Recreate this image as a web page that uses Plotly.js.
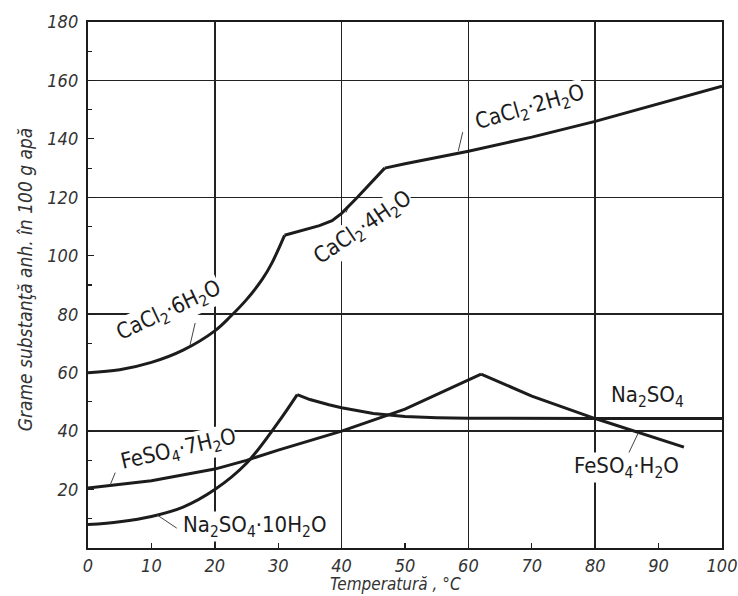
<!DOCTYPE html>
<html>
<head>
<meta charset="utf-8">
<script src="https://cdn.plot.ly/plotly-3.0.1.min.js"></script>
<style>html,body{margin:0;padding:0;background:#fff;}#chart{width:738px;height:596px;}</style>
</head>
<body>
<div id="chart"></div>
<script>
// Solubility data (g anhydrous substance per 100 g water)
const cacl2_6_T = [0, 5, 10, 15, 20, 22.5, 25, 27.5, 29, 31];
const cacl2_6_S = [60, 61, 63.5, 67.7, 74.3, 79.3, 85, 92, 97.5, 107];
const cacl2_4_T = [31, 34, 36.5, 38.5, 40, 42.5, 46.8];
const cacl2_4_S = [107, 108.8, 110.3, 112, 114.5, 120, 130];
const cacl2_2_T = [46.8, 50, 60, 70, 80, 90, 100];
const cacl2_2_S = [130, 131.5, 135.8, 140.6, 146, 152, 158];
const na2so4_10_T = [0, 5, 10, 15, 20, 25, 30, 33];
const na2so4_10_S = [8, 9, 10.8, 14, 20, 29, 43, 52.5];
const na2so4_T = [33, 35, 38, 40, 45, 50, 55, 60, 80, 100];
const na2so4_S = [52.5, 50.8, 49, 48, 46, 45, 44.6, 44.4, 44.3, 44.3];
const feso4_7_T = [0, 10, 20, 25, 30, 40, 50, 62];
const feso4_7_S = [20.5, 23, 27, 30, 33.5, 40, 47.5, 59.5];
const feso4_1_T = [62, 70, 80, 90, 94];
const feso4_1_S = [59.5, 52, 44.3, 37.3, 34.5];

const xTicks = [0, 10, 20, 30, 40, 50, 60, 70, 80, 90, 100];
const yTicks = [20, 40, 60, 80, 100, 120, 140, 160, 180];

const ink = '#1c1c1c';
const curve = (x, y) => ({x, y, type: 'scatter', mode: 'lines',
  line: {color: ink, width: 3, shape: 'spline', smoothing: 1}, hoverinfo: 'skip', showlegend: false});
const straight = (x, y) => ({x, y, type: 'scatter', mode: 'lines',
  line: {color: ink, width: 3}, hoverinfo: 'skip', showlegend: false});

const traces = [
  curve(cacl2_6_T, cacl2_6_S),
  straight(cacl2_4_T, cacl2_4_S),
  straight(cacl2_2_T, cacl2_2_S),
  curve(na2so4_10_T, na2so4_10_S),
  straight(na2so4_T, na2so4_S),
  straight(feso4_7_T, feso4_7_S),
  straight(feso4_1_T, feso4_1_S),
  {x: [], y: [], xaxis: 'x2', yaxis: 'y2', type: 'scatter', mode: 'lines', showlegend: false}
];

const fam = 'DejaVu Sans Condensed, DejaVu Sans, sans-serif';
const labFont = {family: fam, size: 22, color: ink};
const lab = (text, x, y, angle) => ({text, x, y, xref: 'x', yref: 'y', showarrow: false,
  textangle: angle, font: labFont, bgcolor: 'white', borderpad: 0});

const annotations = [
  lab('CaCl<sub>2</sub>·6H<sub>2</sub>O', 12.8, 81, -25),
  lab('CaCl<sub>2</sub>·4H<sub>2</sub>O', 43.4, 109.5, -34),
  lab('CaCl<sub>2</sub>·2H<sub>2</sub>O', 69.7, 150.5, -16),
  lab('FeSO<sub>4</sub>·7H<sub>2</sub>O', 14.3, 33.3, -13),
  lab('Na<sub>2</sub>SO<sub>4</sub>·10H<sub>2</sub>O', 26.3, 7.3, 0),
  lab('Na<sub>2</sub>SO<sub>4</sub>', 88.3, 51.7, 0),
  lab('FeSO<sub>4</sub>·H<sub>2</sub>O', 84.9, 27.7, 0),
  {text: 'Grame substanţă anh. în 100 g apă', xref: 'paper', yref: 'paper',
   x: -0.1, y: 0.51, xanchor: 'center', yanchor: 'middle', showarrow: false, textangle: -90,
   font: {family: fam, size: 19, style: 'italic', color: '#333'}},
  {text: 'Temperatură , °C', xref: 'paper', yref: 'paper',
   x: 0.485, y: -0.0895, xanchor: 'center', yanchor: 'bottom', showarrow: false, borderpad: 0,
   font: {family: fam, size: 17, style: 'italic', color: '#333'}}
];

// thin leader lines from labels to their curves (data coordinates)
const lead = (x0, y0, x1, y1) => ({type: 'line', xref: 'x', yref: 'y', x0, y0, x1, y1,
  line: {color: '#444', width: 1}});
const shapes = [
  lead(16.9, 77, 16.1, 69.5),
  lead(4.3, 25.8, 3.5, 21.6),
  lead(14, 6.8, 10.9, 11.3),
  lead(59.1, 142.3, 58.4, 135.8),
  lead(86.8, 39.4, 85, 31.2),
  lead(41, 116.2, 40.7, 114.8)
];

const tickFont = {family: fam, size: 18, style: 'italic', color: '#333'};

const layout = {
  width: 738, height: 596,
  margin: {l: 88, r: 16, t: 22, b: 48},
  paper_bgcolor: 'white', plot_bgcolor: 'white',
  xaxis: {range: [0, 100], tickvals: xTicks, ticks: 'inside', ticklen: 5, tickwidth: 1.2, tickcolor: ink,
    showgrid: false, zeroline: false, showline: true, linecolor: ink, linewidth: 2.2, mirror: true,
    tickfont: tickFont, ticklabelstandoff: 0},
  yaxis: {range: [0, 180], tickvals: yTicks, ticks: 'inside', ticklen: 6, tickwidth: 1.2, tickcolor: ink,
    minor: {dtick: 10, ticks: 'inside', ticklen: 4, tickcolor: ink, showgrid: false},
    showgrid: false, zeroline: false, showline: true, linecolor: ink, linewidth: 2.2, mirror: true,
    tickfont: tickFont, ticklabelstandoff: 4},
  xaxis2: {range: [0, 100], overlaying: 'x', anchor: 'y2', dtick: 20, tick0: 0, showgrid: true,
    gridcolor: '#222', gridwidth: 1.5, showticklabels: false, ticks: '', zeroline: false, showline: false},
  yaxis2: {range: [0, 180], overlaying: 'y', anchor: 'x2', dtick: 40, tick0: 0, showgrid: true,
    gridcolor: '#222', gridwidth: 1.5, showticklabels: false, ticks: '', zeroline: false, showline: false},
  annotations, shapes,
  showlegend: false
};

Plotly.newPlot('chart', traces, layout, {staticPlot: true, displayModeBar: false});
</script>
</body>
</html>
